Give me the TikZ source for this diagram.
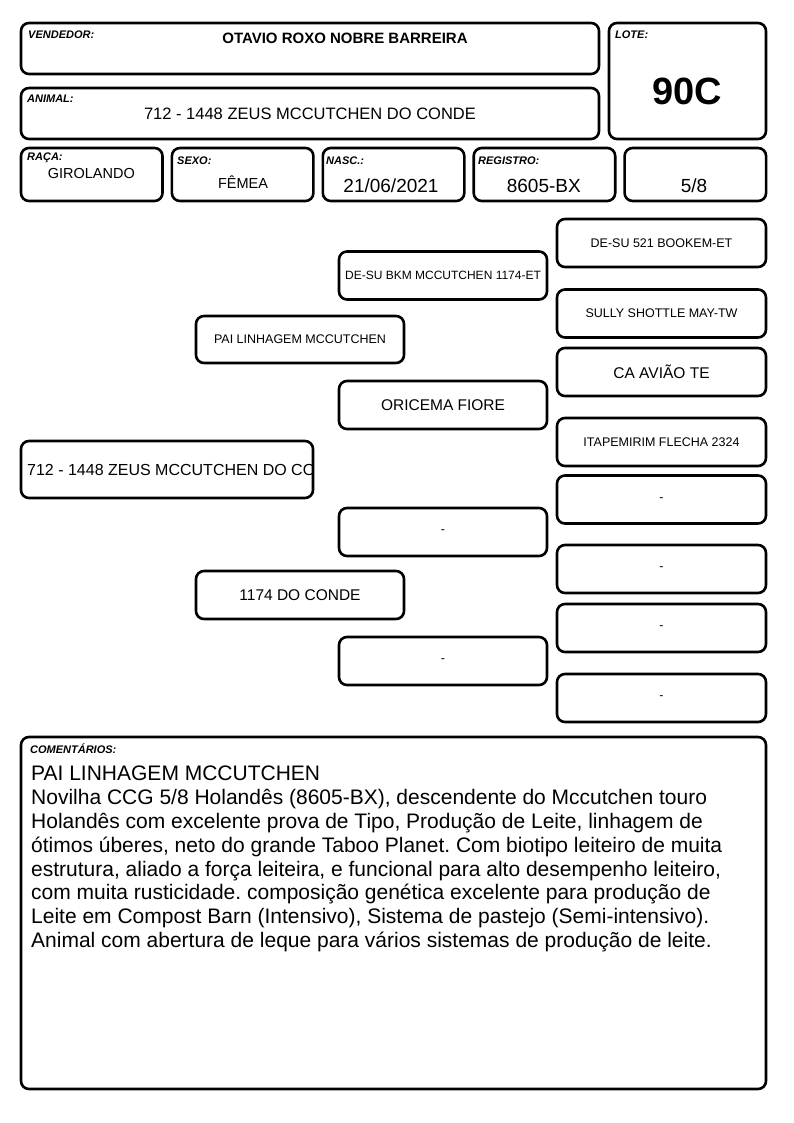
\documentclass[tikz,border=0pt]{standalone}
\usepackage{fontspec}
\setmainfont{Liberation Sans}
\frenchspacing
\usetikzlibrary{positioning}
\tikzset{
  fichabox/.style={draw=black, line width=2.6pt, rounded corners=8pt, fill=white,
    outer sep=0pt, inner sep=0pt, align=center},
  fichalabel/.style={font=\fontsize{11}{13}\selectfont\bfseries\itshape, anchor=base west, inner sep=0pt},
  fichavalue/.style={font=\fontsize{14.5}{17}\selectfont, anchor=base, inner sep=0pt},
  fichabig/.style={font=\fontsize{19}{22}\selectfont, anchor=base, inner sep=0pt},
  rowbox/.style={fichabox, minimum width=141.5pt, minimum height=53pt},
  pedbox/.style={fichabox, minimum width=208pt, minimum height=48pt},
  bisbox/.style={fichabox, minimum width=209pt, minimum height=48pt},
  pedsmall/.style={font=\fontsize{12.5}{15}\selectfont},
  pedmid/.style={font=\fontsize{15.5}{18}\selectfont},
}

\begin{document}
\begin{tikzpicture}[x=1pt, y=-1pt, node distance=9.4pt]
  \fill[white] (0,0) rectangle (794,1123);
  \useasboundingbox (0,0) rectangle (794,1123);
  % Cabecalho
  \node[fichabox, minimum width=578pt, minimum height=51pt] (vend) at (310,48.5) {};
  \node[fichalabel] (vendlbl) at (28,39) {VENDEDOR:};
  \node[fichavalue, font=\fontsize{15}{18}\selectfont\bfseries] (vendval) at (345,43.5) {OTAVIO ROXO NOBRE BARREIRA};
  \node[fichabox, minimum width=578pt, minimum height=51pt] (anim) at (310,113.5) {};
  \node[fichalabel] (animlbl) at (27,103) {ANIMAL:};
  \node[fichavalue, font=\fontsize{16.5}{19}\selectfont] (animval) at (310,120) {712 - 1448 ZEUS MCCUTCHEN DO CONDE};
  \node[fichabox, minimum width=157pt, minimum height=116pt] (lote) at (687.5,81) {};
  \node[fichalabel] (lotelbl) at (615,38.3) {LOTE:};
  \node[fichavalue, font=\fontsize{38}{44}\selectfont\bfseries] (loteval) at (687,105) {90C};
  % Linha de dados
  \node[rowbox] (raca) at (91.75,174.5) {};
  \node[rowbox, right=of raca] (sexo) {};
  \node[rowbox, right=of sexo] (nasc) {};
  \node[rowbox, right=of nasc] (reg) {};
  \node[rowbox, right=of reg] (comp) {};
  \node[fichalabel] (racalbl) at (27,161) {RAÇA:};
  \node[fichavalue] (racaval) at (91.3,178.3) {GIROLANDO};
  \node[fichalabel] (sexolbl) at (177,165) {SEXO:};
  \node[fichavalue] (sexoval) at (243,189) {FÊMEA};
  \node[fichalabel] (nasclbl) at (326,165) {NASC.:};
  \node[fichabig] (nascval) at (391,193) {21/06/2021};
  \node[fichalabel] (reglbl) at (478,165) {REGISTRO:};
  \node[fichabig] (regval) at (543.8,193) {8605-BX};
  \node[fichabig] (compval) at (694,193) {5/8};
  % Genealogia
  \node[fichabox, minimum width=292pt, minimum height=57pt] (zeus) at (167,469.5) {};
  \begin{scope}
    \clip ([xshift=1.5pt]zeus.south west) rectangle ([xshift=-1.5pt]zeus.north east);
    \node[anchor=west, inner sep=0pt, font=\fontsize{16}{19}\selectfont] (zeustxt) at (27,470) {712 - 1448 ZEUS MCCUTCHEN DO CONDE};
  \end{scope}
  \node[pedbox, pedsmall, minimum height=47pt] (pai) at (300,339.5) {PAI LINHAGEM MCCUTCHEN};
  \node[pedbox, pedmid] (mae) at (300,595) {1174 DO CONDE};
  \node[pedbox, pedsmall, font=\fontsize{12}{14}\selectfont] (avop) at (443,275.5) {DE-SU BKM MCCUTCHEN 1174-ET};
  \node[pedbox, pedmid] (avap) at (443,405) {ORICEMA FIORE};
  \node[pedbox, pedsmall] (avom) at (443,532) {-};
  \node[pedbox, pedsmall] (avam) at (443,661) {-};
  \node[bisbox, pedsmall] (bis1) at (661.5,243) {DE-SU 521 BOOKEM-ET};
  \node[bisbox, pedsmall] (bis2) at (661.5,313.5) {SULLY SHOTTLE MAY-TW};
  \node[bisbox, pedmid] (bis3) at (661.5,372) {CA AVIÃO TE};
  \node[bisbox, pedsmall] (bis4) at (661.5,442) {ITAPEMIRIM FLECHA 2324};
  \node[bisbox, pedsmall] (bis5) at (661.5,499.5) {-};
  \node[bisbox, pedsmall] (bis6) at (661.5,569) {-};
  \node[bisbox, pedsmall] (bis7) at (661.5,628) {-};
  \node[bisbox, pedsmall] (bis8) at (661.5,698) {-};
  % Comentarios
  \node[fichabox, minimum width=745pt, minimum height=352pt] (coment) at (393.5,913) {};
  \node[fichalabel] (comentlbl) at (30,753) {COMENTÁRIOS:};
  \node[anchor=north west, inner sep=0pt, align=left, font=\fontsize{21}{23.8}\selectfont] (comenttxt) at (31,766) {PAI LINHAGEM MCCUTCHEN\\
    Novilha CCG 5/8 Holandês (8605-BX), descendente do Mccutchen touro\\
    Holandês com excelente prova de Tipo, Produção de Leite, linhagem de\\
    ótimos úberes, neto do grande Taboo Planet. Com biotipo leiteiro de muita\\
    estrutura, aliado a força leiteira, e funcional para alto desempenho leiteiro,\\
    com muita rusticidade. composição genética excelente para produção de\\
    Leite em Compost Barn (Intensivo), Sistema de pastejo (Semi-intensivo).\\
    Animal com abertura de leque para vários sistemas de produção de leite.};
\end{tikzpicture}
\end{document}
